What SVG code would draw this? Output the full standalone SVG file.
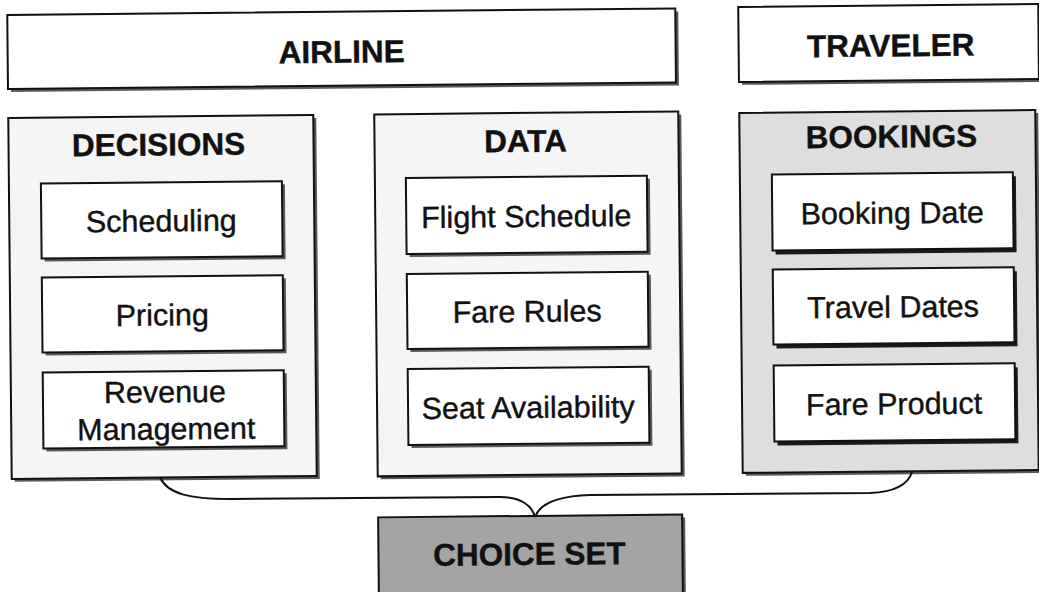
<svg xmlns="http://www.w3.org/2000/svg" width="1039" height="592" viewBox="0 0 1039 592">
  <defs>
    <style>
      .box { stroke: #111; stroke-width: 2; }
      .shadow { fill: #5a5a5a; }
      .shadow-dark { fill: #1a1a1a; }
      .plain { fill: #ffffff; }
      .light { fill: #f5f5f5; }
      .mid { fill: #dedede; }
      .dark { fill: #a4a4a4; }
      .title { font-family: "Liberation Sans", Arial, sans-serif; font-weight: bold; font-size: 31.5px; fill: #111; stroke: #111; stroke-width: 0.4; text-anchor: middle; }
      .item { font-family: "Liberation Sans", Arial, sans-serif; font-size: 30.5px; fill: #111; stroke: #111; stroke-width: 0.4; text-anchor: middle; }
      .link { fill: none; stroke: #111; stroke-width: 2; }
    </style>
  </defs>
  <rect width="1039" height="592" fill="#ffffff"/>

  <g transform="rotate(-0.55 520 296)">
    <!-- header bars -->
    <g id="airline">
      <rect class="shadow" x="13" y="13" width="668" height="74"/>
      <rect class="box plain" x="10" y="10" width="668" height="74"/>
      <text class="title" x="344" y="61">AIRLINE</text>
    </g>
    <g id="traveler">
      <rect class="shadow" x="744" y="12" width="300" height="75"/>
      <rect class="box plain" x="741" y="9" width="300" height="75"/>
      <text class="title" x="893" y="60">TRAVELER</text>
    </g>

    <!-- DECISIONS panel -->
    <g id="decisions">
      <rect class="shadow" x="13" y="116" width="305" height="361"/>
      <rect class="box light" x="10" y="113" width="305" height="361"/>
      <text class="title" x="160" y="152">DECISIONS</text>
    </g>
    <g id="scheduling">
      <rect class="shadow" x="45" y="182" width="241" height="75"/>
      <rect class="box plain" x="42" y="179" width="241" height="75"/>
      <text class="item" x="162" y="228">Scheduling</text>
    </g>
    <g id="pricing">
      <rect class="shadow" x="45" y="276" width="241" height="75"/>
      <rect class="box plain" x="42" y="273" width="241" height="75"/>
      <text class="item" x="162" y="322">Pricing</text>
    </g>
    <g id="revenue-management">
      <rect class="shadow" x="45" y="371" width="241" height="76"/>
      <rect class="box plain" x="42" y="368" width="241" height="76"/>
      <text class="item" x="164" y="399">Revenue</text>
      <text class="item" x="165" y="436">Management</text>
    </g>

    <!-- DATA panel -->
    <g id="data">
      <rect class="shadow" x="379" y="116" width="304" height="362"/>
      <rect class="box light" x="376" y="113" width="304" height="362"/>
      <text class="title" x="527" y="152">DATA</text>
    </g>
    <g id="flight-schedule">
      <rect class="shadow" x="410" y="180" width="241" height="76"/>
      <rect class="box plain" x="407" y="177" width="241" height="76"/>
      <text class="item" x="527" y="227">Flight Schedule</text>
    </g>
    <g id="fare-rules">
      <rect class="shadow" x="410" y="276" width="241" height="75"/>
      <rect class="box plain" x="407" y="273" width="241" height="75"/>
      <text class="item" x="527" y="322">Fare Rules</text>
    </g>
    <g id="seat-availability">
      <rect class="shadow" x="410" y="371" width="241" height="76"/>
      <rect class="box plain" x="407" y="368" width="241" height="76"/>
      <text class="item" x="527" y="418">Seat Availability</text>
    </g>

    <!-- BOOKINGS panel -->
    <g id="bookings">
      <rect class="shadow" x="744" y="118" width="296" height="360"/>
      <rect class="box mid" x="741" y="115" width="296" height="360"/>
      <text class="title" x="893" y="151">BOOKINGS</text>
    </g>
    <g id="booking-date">
      <rect class="shadow-dark" x="776" y="181" width="241" height="76"/>
      <rect class="box plain" x="773" y="177" width="241" height="76"/>
      <text class="item" x="893" y="227">Booking Date</text>
    </g>
    <g id="travel-dates">
      <rect class="shadow-dark" x="776" y="276" width="241" height="75"/>
      <rect class="box plain" x="773" y="272" width="241" height="75"/>
      <text class="item" x="893" y="321">Travel Dates</text>
    </g>
    <g id="fare-product">
      <rect class="shadow-dark" x="776" y="372" width="241" height="76"/>
      <rect class="box plain" x="773" y="368" width="241" height="76"/>
      <text class="item" x="893" y="418">Fare Product</text>
    </g>

    <!-- result -->
    <g id="choice-set">
      <rect class="shadow" x="379" y="519" width="304" height="80"/>
      <rect class="box dark" x="376" y="516" width="304" height="80"/>
      <text class="title" x="527" y="565">CHOICE SET</text>
    </g>
  </g>

  <!-- brace joining the panels into the choice set -->
  <g id="connectors">
    <path class="link" d="M160,477 C167,494 190,499 230,499 L500,497 C520,497 532,505 535,517"/>
    <path class="link" d="M535,517 C540,503 560,496 590,495 L870,493 C895,492 908,485 912,472"/>
  </g>
</svg>
